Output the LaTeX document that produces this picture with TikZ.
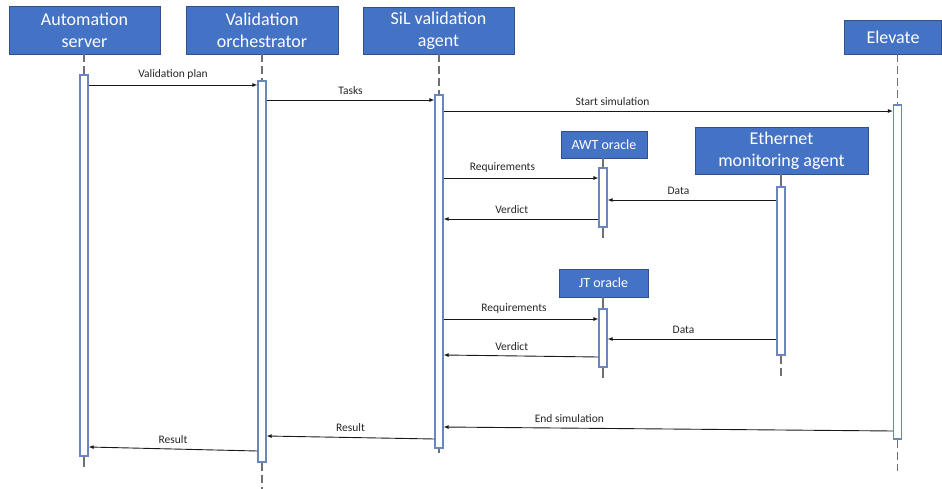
\documentclass[tikz,border=0pt]{standalone}
\usepackage{fontspec}
\setmainfont{Carlito}
\usetikzlibrary{arrows.meta}
\definecolor{boxblue}{HTML}{4472C4}
\definecolor{boxedge}{HTML}{2F528F}
\definecolor{baredge}{HTML}{6A86BE}
\definecolor{lifegray}{HTML}{707070}
\begin{document}
\begin{tikzpicture}[x=1pt, y=-1pt,
        actor/.style={rectangle, draw=boxedge, fill=boxblue, text=white, inner sep=0pt, align=center, font=\fontsize{18}{22}\selectfont},
        oracle/.style={actor, font=\fontsize{14}{16}\selectfont},
        bar/.style={rectangle, draw=baredge, fill=white, line width=1.2pt, minimum width=8pt, inner sep=0pt},
        life/.style={draw=lifegray, line width=1.3pt, dash pattern=on 8pt off 4pt},
        tick/.style={draw=lifegray, line width=1.3pt},
        msg/.style={-{Latex[length=5pt,width=4pt]}, line width=0.9pt, black!90},
        lbl/.style={above=2pt, font=\fontsize{11.5}{13}\selectfont, text=black!85}
      ]
      \useasboundingbox (0,0) rectangle (942,489);

      % Actors
      \node[actor, minimum width=151pt, minimum height=48pt] (as) at (84.5,30) {Automation\\server};
      \node[actor, minimum width=152pt, minimum height=48pt] (vo) at (262,30) {Validation\\orchestrator};
      \node[actor, minimum width=151pt, minimum height=47pt] (sil) at (438.5,30.5) {SiL validation\\agent};
      \node[actor, minimum width=97pt, minimum height=34pt] (elev) at (893,37) {Elevate};
      \node[oracle, minimum width=86pt, minimum height=27pt] (awt) at (604,144.5) {AWT oracle};
      \node[actor, minimum width=173pt, minimum height=47pt] (eth) at (781.5,150.5) {Ethernet\\monitoring agent};
      \node[oracle, minimum width=89pt, minimum height=28pt] (jt) at (603.5,283) {JT oracle};

      % Activation bars
      \node[bar, minimum height=381pt] (asbar) at (84,265.5) {};
      \node[bar, minimum height=381pt] (vobar) at (262,271.5) {};
      \node[bar, minimum height=353pt] (silbar) at (439,271.5) {};
      \node[bar, minimum height=334pt] (elbar) at (897.5,272) {};
      \node[bar, minimum height=59pt] (awtbar) at (603,197.5) {};
      \node[bar, minimum height=168pt] (ethbar) at (781,271) {};
      \node[bar, minimum height=58pt] (jtbar) at (603,338) {};

      % Lifeline ends
      \coordinate (asend) at (84,467);
      \coordinate (voend) at (262,489);
      \coordinate (silend) at (439,453);
      \coordinate (elend) at (897.5,471);
      \coordinate (awtend) at (603,238);
      \coordinate (ethend) at (781,378);
      \coordinate (jtend) at (603,378);

      % Lifelines
      \draw[life] (as.south -| asbar.north) -- (asbar.north);
      \draw[tick] (asbar.south) -- (asend);
      \draw[life] (vo.south -| vobar.north) -- (vobar.north);
      \draw[life] (vobar.south) -- (voend);
      \draw[life] (sil.south -| silbar.north) -- (silbar.north);
      \draw[tick] (silbar.south) -- (silend);
      \draw[life] (elev.south -| elbar.north) -- (elbar.north);
      \draw[life] (elbar.south) -- (elend);
      \draw[tick] (awt.south -| awtbar.north) -- (awtbar.north);
      \draw[tick] (awtbar.south) -- (awtend);
      \draw[tick] (eth.south -| ethbar.north) -- (ethbar.north);
      \draw[life] (ethbar.south) -- (ethend);
      \draw[tick] (jt.south -| jtbar.north) -- (jtbar.north);
      \draw[tick] (jtbar.south) -- (jtend);

      % Messages
      \draw[msg] (asbar.east |- 0,85) -- (vobar.west |- 0,85) node[lbl, midway] {Validation plan};
      \draw[msg] (vobar.east |- 0,100) -- (silbar.west |- 0,100) node[lbl, midway] {Tasks};
      \draw[msg] (silbar.east |- 0,111) -- (elbar.west |- 0,111) node[lbl, pos=0.376] {Start simulation};

      % AWT oracle
      \draw[msg] (silbar.east |- 0,178) -- (awtbar.west |- 0,178) node[lbl, pos=0.38] {Requirements};
      \draw[msg] (ethbar.west |- 0,200) -- (awtbar.east |- 0,200) node[lbl, pos=0.58] {Data};
      \draw[msg] (awtbar.west |- 0,219) -- (silbar.east |- 0,219) node[lbl, pos=0.56] {Verdict};

      % JT oracle
      \draw[msg] (silbar.east |- 0,319) -- (jtbar.west |- 0,319) node[lbl, pos=0.455] {Requirements};
      \draw[msg] (ethbar.west |- 0,339) -- (jtbar.east |- 0,339) node[lbl, pos=0.55] {Data};
      \draw[msg] (jtbar.west |- 0,357) -- (silbar.east |- 0,355) node[lbl, pos=0.56] {Verdict};

      % Results
      \draw[msg] (elbar.west |- 0,431) -- (silbar.east |- 0,427) node[lbl, pos=0.72] {End simulation};
      \draw[msg] (silbar.west |- 0,439) -- (vobar.east |- 0,436) node[lbl, midway] {Result};
      \draw[msg] (vobar.west |- 0,451) -- (asbar.east |- 0,447) node[lbl, midway] {Result};
    \end{tikzpicture}
\end{document}
